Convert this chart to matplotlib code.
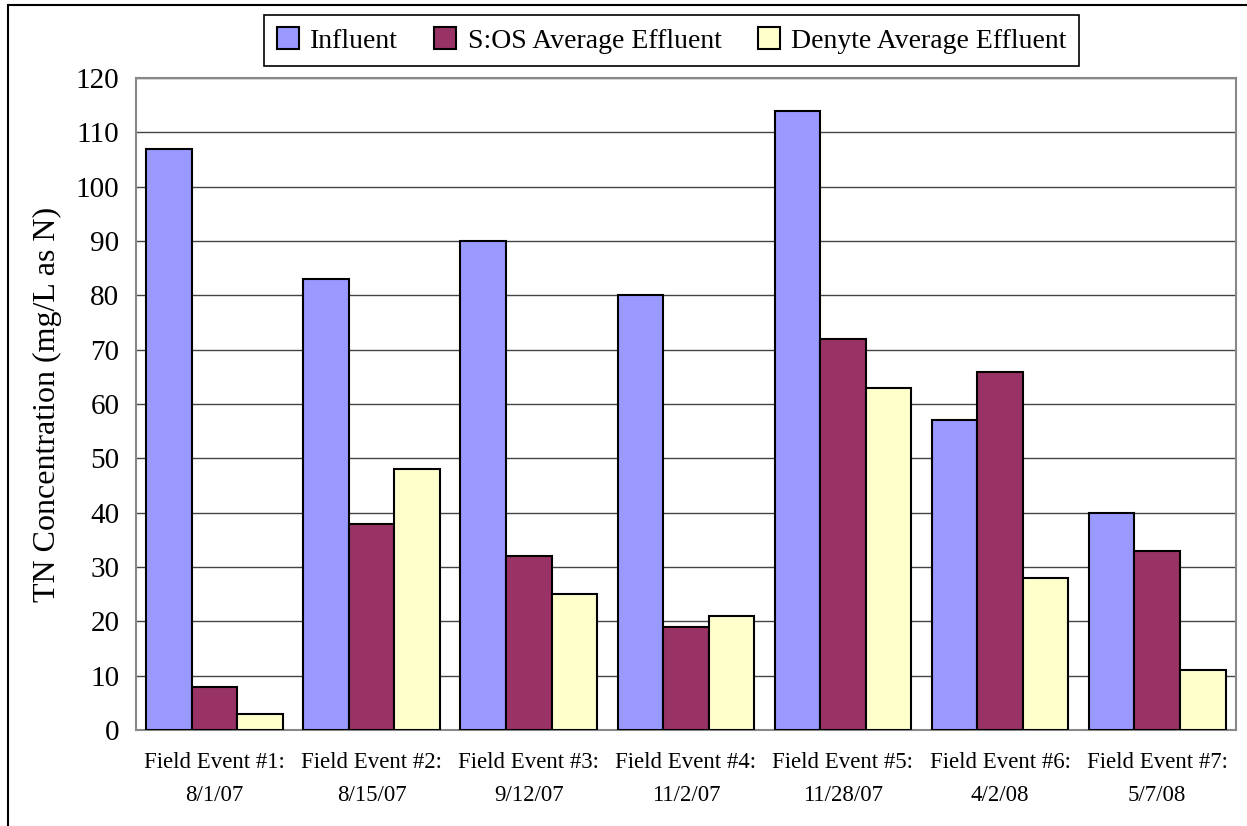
import numpy as np
import matplotlib
matplotlib.use("Agg")
import matplotlib.pyplot as plt
from matplotlib.patches import Rectangle

# data
events = ["Field Event #1:\n8/1/07", "Field Event #2:\n8/15/07", "Field Event #3:\n9/12/07",
          "Field Event #4:\n11/2/07", "Field Event #5:\n11/28/07", "Field Event #6:\n4/2/08",
          "Field Event #7:\n5/7/08"]
influent = [107, 83, 90, 80, 114, 57, 40]
sos_effluent = [8, 38, 32, 19, 72, 66, 33]
denyte_effluent = [3, 48, 25, 21, 63, 28, 11]
series_names = ["Influent", "S:OS Average Effluent", "Denyte Average Effluent"]
yticks = list(range(0, 121, 10))

plt.rcParams['font.family'] = ['Liberation Serif', 'DejaVu Serif']

fig = plt.figure(figsize=(12.47, 8.26), dpi=100)
ax = fig.add_axes([0.109, 0.116, 0.882, 0.7895])

x = np.arange(len(events))
w = 0.29
colors = ["#9999FF", "#993366", "#FFFFCC"]
for k, (vals, col, name) in enumerate(zip([influent, sos_effluent, denyte_effluent], colors, series_names)):
    ax.bar(x + (k - 1) * w, vals, w, color=col, edgecolor="black", linewidth=1.5, label=name, zorder=3)

ax.set_xlim(-0.5, len(events) - 0.5)
ax.set_ylim(0, 120)
ax.set_yticks(yticks)
ax.yaxis.grid(True, color="#444444", linewidth=1.0, zorder=0)
ax.set_xticks(x)
ax.set_xticklabels(events, fontsize=16.5, linespacing=1.75)
ax.tick_params(axis="y", labelsize=21, length=0, pad=12)
ax.tick_params(axis="x", length=0, pad=16)
for s in ax.spines.values():
    s.set_color("#888888")
    s.set_linewidth(1.5)
ax.set_ylabel("TN Concentration (mg/L as N)", fontsize=23, labelpad=10)

leg = ax.legend(loc="center", bbox_to_anchor=(0.487, 1.0575), ncol=3, fontsize=20,
                frameon=True, fancybox=False, edgecolor="black", framealpha=1,
                handlelength=0.8, handleheight=0.8, handletextpad=0.4,
                columnspacing=1.3, borderpad=0.45)
leg.get_frame().set_linewidth(1.2)

# outer chart border (cut at right and bottom like the original)
fig.patches.append(Rectangle((8 / 1247, -0.1), 1.2, 1 - 5 / 826 + 0.1, transform=fig.transFigure,
                             fill=False, edgecolor="black", linewidth=1.5))

fig.savefig("out.png", dpi=100)
